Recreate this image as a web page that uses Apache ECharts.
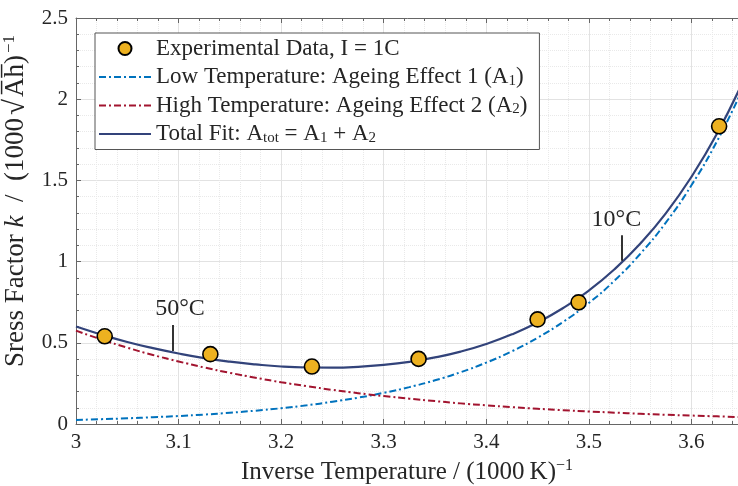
<!DOCTYPE html>
<html>
<head>
<meta charset="utf-8">
<script src="https://cdn.jsdelivr.net/npm/echarts/dist/echarts.min.js"></script>
<style>
  html, body { margin: 0; padding: 0; background: #fff; }
  #chart { width: 738px; height: 486px; }
</style>
</head>
<body>
<div id="chart"></div>
<script>
// Inverse temperature grid used for the fitted curves, (1000 K)^-1
const fitX = [3.000, 3.025, 3.050, 3.075, 3.100, 3.125, 3.150, 3.175, 3.200, 3.225,
              3.250, 3.275, 3.300, 3.325, 3.350, 3.375, 3.400, 3.425, 3.450, 3.475,
              3.500, 3.525, 3.550, 3.575, 3.600, 3.625, 3.650];
// Ageing effect 1 (dominant at low temperature)
const lowTempFit = [0.025, 0.030, 0.035, 0.042, 0.049, 0.058, 0.069, 0.082, 0.097, 0.115,
                    0.137, 0.162, 0.192, 0.227, 0.269, 0.319, 0.378, 0.448, 0.531, 0.629,
                    0.745, 0.883, 1.047, 1.240, 1.470, 1.742, 2.064];
// Ageing effect 2 (dominant at high temperature)
const highTempFit = [0.575, 0.520, 0.470, 0.425, 0.385, 0.348, 0.315, 0.285, 0.257, 0.233,
                     0.210, 0.190, 0.172, 0.156, 0.141, 0.127, 0.115, 0.104, 0.094, 0.085,
                     0.077, 0.070, 0.063, 0.057, 0.052, 0.047, 0.042];
// Total fit A_tot = A1 + A2
const totalFit = [0.600, 0.550, 0.505, 0.467, 0.434, 0.406, 0.384, 0.367, 0.354, 0.348,
                  0.347, 0.352, 0.364, 0.383, 0.410, 0.446, 0.493, 0.552, 0.625, 0.714,
                  0.822, 0.953, 1.110, 1.297, 1.522, 1.789, 2.106];

// Measured stress factors at 1C
const expX = [3.028, 3.131, 3.230, 3.334, 3.450, 3.490, 3.627];
const expY = [0.540, 0.430, 0.354, 0.401, 0.644, 0.749, 1.833];

// Temperature markers on the total fit
const markLabels = ['50\u00B0C', '10\u00B0C'];
const markX = [3.0945, 3.5317];
const markYLow = [0.45, 1.006];
const markYHigh = [0.61, 1.162];

const FONT = 'Liberation Serif';
const TEXT = '#262626';
const AXIS = '#666666';

const seriesNames = [
  'Experimental Data, I = 1C',
  'Low Temperature: Ageing Effect 1 (A1)',
  'High Temperature: Ageing Effect 2 (A2)',
  'Total Fit: Atot = A1 + A2'
];
const legendRich = {};
legendRich[seriesNames[0]] = 'Experimental Data, I = 1C';
legendRich[seriesNames[1]] = 'Low Temperature: Ageing Effect 1 (A{s|1})';
legendRich[seriesNames[2]] = 'High Temperature: Ageing Effect 2 (A{s|2})';
legendRich[seriesNames[3]] = 'Total Fit: A{s|tot} = A{s|1} + A{s|2}';

const zip = (xs, ys) => xs.map((x, i) => [x, ys[i]]);

// Small horizontal nudges so each label sits just beside its tick
const markPads = [[0, 0, 0, 14], [0, 10, 0, 0]];
const markData = markLabels.map((name, i) => [
  { name: name, coord: [markX[i], markYLow[i]], label: { padding: markPads[i] } },
  { coord: [markX[i], markYHigh[i]] }
]);

const chart = echarts.init(document.getElementById('chart'), null, { renderer: 'canvas' });

const xCommon = {
  type: 'value', min: 3, max: 3.7, interval: 0.1,
  axisLine: { show: true, onZero: false, lineStyle: { color: AXIS, width: 1 } },
  axisTick: { show: true, inside: true, length: 5, lineStyle: { color: AXIS } },
  minorTick: { show: true, splitNumber: 5, length: 3, lineStyle: { color: AXIS } }
};

chart.setOption({
  animation: false,
  backgroundColor: '#ffffff',
  grid: { left: 76, right: -56, top: 18, bottom: 62, containLabel: false, outerBoundsMode: 'none' },
  legend: {
    orient: 'vertical',
    left: 95, top: 33,
    padding: [4, 12, 4, 3],
    backgroundColor: '#ffffff',
    borderColor: '#555555',
    borderWidth: 1,
    itemWidth: 52, itemHeight: 13, itemGap: 5.5,
    data: [
      { name: seriesNames[0] },
      { name: seriesNames[1], itemStyle: { opacity: 0 } },
      { name: seriesNames[2], itemStyle: { opacity: 0 } },
      { name: seriesNames[3], itemStyle: { opacity: 0 } }
    ],
    formatter: name => legendRich[name],
    textStyle: {
      fontFamily: FONT, fontSize: 23, color: TEXT, lineHeight: 22,
      rich: { s: { fontFamily: FONT, fontSize: 15, color: TEXT, padding: [8, 0, 0, 0] } }
    }
  },
  xAxis: [
    Object.assign({}, xCommon, {
      position: 'bottom',
      axisLabel: { color: TEXT, fontFamily: FONT, fontSize: 21, margin: 8, showMaxLabel: false },
      splitLine: { show: true, lineStyle: { color: '#e2e2e2', width: 1 } },
      minorSplitLine: { show: true, lineStyle: { color: '#e9e9e9', width: 1, type: 'dotted' } },
      name: 'Inverse Temperature / (1000\u2009K){s|\u22121}',
      nameLocation: 'middle', nameGap: 30,
      nameTextStyle: {
        fontFamily: FONT, fontSize: 25, color: TEXT, padding: [0, 56, 0, 0],
        rich: { s: { fontFamily: FONT, fontSize: 16, color: TEXT, padding: [0, 0, 13, 0] } }
      }
    }),
    Object.assign({}, xCommon, {
      position: 'top',
      axisLabel: { show: false },
      splitLine: { show: false }
    })
  ],
  yAxis: {
    type: 'value', min: 0, max: 2.5, interval: 0.5,
    axisLine: { show: true, onZero: false, lineStyle: { color: AXIS, width: 1 } },
    axisTick: { show: true, inside: true, length: 5, lineStyle: { color: AXIS } },
    minorTick: { show: true, splitNumber: 5, length: 3, lineStyle: { color: AXIS } },
    axisLabel: { color: TEXT, fontFamily: FONT, fontSize: 21, margin: 8 },
    splitLine: { show: true, lineStyle: { color: '#e2e2e2', width: 1 } },
    minorSplitLine: { show: true, lineStyle: { color: '#e9e9e9', width: 1, type: 'dotted' } },
    name: 'Sress Factor {i|k}  /  (1000{r|\u221A}A\u0305h\u0305){s|\u22121}',
    nameLocation: 'middle', nameGap: 43,
    nameTextStyle: {
      fontFamily: FONT, fontSize: 27, color: TEXT, padding: [0, 0, 0, 40],
      rich: {
        i: { fontFamily: FONT, fontSize: 27, fontStyle: 'italic', color: TEXT },
        r: { fontFamily: FONT, fontSize: 29, color: TEXT, padding: [0, 2, 0, 3] },
        s: { fontFamily: FONT, fontSize: 17, color: TEXT, padding: [0, 0, 14, 2] }
      }
    }
  },
  series: [
    {
      name: seriesNames[0], type: 'scatter', z: 5,
      data: zip(expX, expY),
      symbol: 'circle', symbolSize: 15,
      itemStyle: { color: '#EDB120', borderColor: '#000000', borderWidth: 1.6, opacity: 1 }
    },
    {
      name: seriesNames[1], type: 'line', symbol: 'none', smooth: true, z: 3,
      data: zip(fitX, lowTempFit),
      lineStyle: { color: '#0072BD', width: 2, type: [7, 3, 2, 3] },
      itemStyle: { color: '#0072BD' }
    },
    {
      name: seriesNames[2], type: 'line', symbol: 'none', smooth: true, z: 3,
      data: zip(fitX, highTempFit),
      lineStyle: { color: '#A2142F', width: 2, type: [7, 3, 2, 3] },
      itemStyle: { color: '#A2142F' }
    },
    {
      name: seriesNames[3], type: 'line', symbol: 'none', smooth: true, z: 4,
      data: zip(fitX, totalFit),
      lineStyle: { color: '#32437A', width: 2.2 },
      itemStyle: { color: '#32437A' },
      markLine: {
        silent: true, symbol: 'none', animation: false,
        lineStyle: { color: '#000000', width: 1.6, type: 'solid' },
        label: {
          show: true, position: 'end', distance: 4,
          formatter: p => p.name,
          fontFamily: FONT, fontSize: 24, color: TEXT
        },
        data: markData
      }
    }
  ]
});
</script>
</body>
</html>
